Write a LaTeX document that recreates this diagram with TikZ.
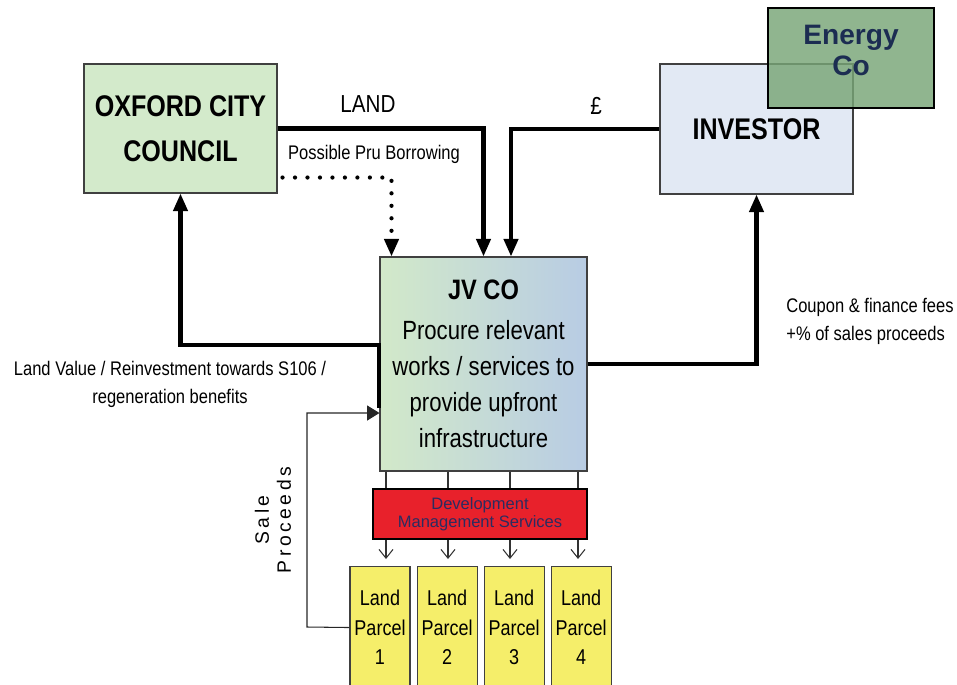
\documentclass[tikz,border=0pt]{standalone}
\usepackage{fontspec}
\setmainfont{Liberation Sans}
\newfontfamily\narrowsf[FakeStretch=0.84]{Liberation Sans}
\newfontfamily\spacedsf[LetterSpace=18]{Liberation Sans}
\usetikzlibrary{arrows.meta, positioning, calc}
\definecolor{councilgreen}{RGB}{211, 234, 203}
\definecolor{investorblue}{RGB}{226, 233, 244}
\definecolor{energygreen}{RGB}{120, 165, 118}
\definecolor{energynavy}{RGB}{28, 45, 82}
\definecolor{jvgreen}{RGB}{210, 233, 201}
\definecolor{jvblue}{RGB}{184, 204, 228}
\definecolor{dmsred}{RGB}{232, 33, 43}
\definecolor{dmsnavy}{RGB}{44, 44, 96}
\definecolor{parcelyellow}{RGB}{245, 238, 106}
\tikzset{
  block/.style={draw=black!75, line width=0.6pt, align=center, inner sep=0pt},
  flow/.style={line width=2.3pt, -{Triangle[length=10pt, width=8pt]}},
  pruflow/.style={line width=2.4pt, line cap=round, dash pattern=on 0pt off 7.1pt, -{Triangle[length=10pt, width=8pt]}},
  saleflow/.style={draw=black!85, line width=0.6pt, -{Triangle[length=7pt, width=8.5pt]}},
  tap/.style={draw=black!80, line width=0.6pt},
  tapflow/.style={draw=black!80, line width=0.6pt, -{Straight Barb[length=5pt, width=8pt]}},
  parcel/.style={block, fill=parcelyellow, minimum width=1.2cm, minimum height=2.44cm, anchor=north,
    font=\narrowsf\fontsize{12.2}{16.7}\selectfont},
  flowlabel/.style={align=center, inner sep=0pt, font=\narrowsf\fontsize{11.2}{16}\selectfont}
}
\begin{document}
\begin{tikzpicture}
  \useasboundingbox (0,0) rectangle (19.14,-13.68);
  \node[block, fill=councilgreen, minimum width=3.86cm, minimum height=2.58cm,
    font=\narrowsf\bfseries\fontsize{17}{25.5}\selectfont] (council) at (3.61,-2.57) {OXFORD CITY\\COUNCIL};
  \node[block, fill=investorblue, minimum width=3.86cm, minimum height=2.6cm,
    font=\narrowsf\bfseries\fontsize{17}{20}\selectfont] (investor) at (15.13,-2.58) {INVESTOR};
  \node[draw=black, line width=1.6pt, fill=energygreen, fill opacity=0.82, text opacity=1,
    minimum width=3.32cm, minimum height=2cm, inner sep=0pt,
    label={[align=center, text=energynavy, yshift=0.15cm, font=\bfseries\fontsize{16}{17.6}\selectfont]center:{Energy\\Co}}]
    (energy) at (17.02,-1.16) {};
  \node[block, left color=jvgreen, right color=jvblue, minimum width=4.14cm, minimum height=4.28cm,
    font=\narrowsf\fontsize{15}{20.4}\selectfont] (jv) at (9.67,-7.28)
    {{\bfseries\fontsize{16}{20.4}\selectfont JV CO}\\[2.3pt]Procure relevant\\works / services to\\provide upfront\\infrastructure};
  \node[draw=black, line width=1.3pt, fill=dmsred, minimum width=4.28cm, minimum height=1cm, inner sep=0pt,
    align=center, text=dmsnavy, font=\fontsize{9.4}{10.2}\selectfont] (dms) at (9.6,-10.28)
    {Development\\Management Services};
  \node[parcel] (p1) at (7.6,-11.32) {Land\\Parcel\\1};
  \node[parcel, right=0.12cm of p1] (p2) {Land\\Parcel\\2};
  \node[parcel, right=0.12cm of p2] (p3) {Land\\Parcel\\3};
  \node[parcel, right=0.12cm of p3] (p4) {Land\\Parcel\\4};

  \foreach \x [count=\i] in {7.72, 8.96, 10.2, 11.56} {
    \coordinate (tap\i) at (\x,0);
    \draw[tap] (jv.south -| tap\i) -- (dms.north -| tap\i);
    \draw[tapflow] (dms.south -| tap\i) -- ([yshift=0.14cm]p\i.north -| tap\i);
  }

  \draw[flow] (council.east) -| (jv.north);
  \draw[flow] (investor.west) -| ([xshift=0.55cm]jv.north);
  \draw[pruflow] ([shift={(0.1cm,0.32cm)}]council.south east) -| ([xshift=-1.84cm]jv.north);
  \draw[flow] ([yshift=-0.88cm]jv.west) -- ([yshift=0.38cm]jv.west) -| (council.south);
  \draw[flow] (jv.east) -| (investor.south);
  \coordinate (saleturn) at (6.14,-12.54);
  \draw[saleflow] (p1.west) -- (saleturn) |- ([yshift=-0.98cm]jv.west);

  \node[flowlabel, font=\narrowsf\fontsize{14}{16}\selectfont] (landlabel) at (7.36,-2.08) {LAND};
  \node[flowlabel, font=\narrowsf\fontsize{14}{16}\selectfont] (poundlabel) at (11.92,-2.12) {£};
  \node[flowlabel] (prulabel) at (7.48,-3.08) {Possible Pru Borrowing};
  \node[flowlabel] (valuelabel) at (3.4,-7.68) {Land Value / Reinvestment towards S106 /\\regeneration benefits};
  \node[flowlabel, align=left, anchor=west] (couponlabel) at (15.72,-6.42) {Coupon \& finance fees\\+\% of sales proceeds};
  \node[flowlabel, rotate=90, font=\spacedsf\fontsize{11}{12.5}\selectfont] (salelabel) at (5.46,-10.4) {Sale\\Proceeds};
\end{tikzpicture}
\end{document}
